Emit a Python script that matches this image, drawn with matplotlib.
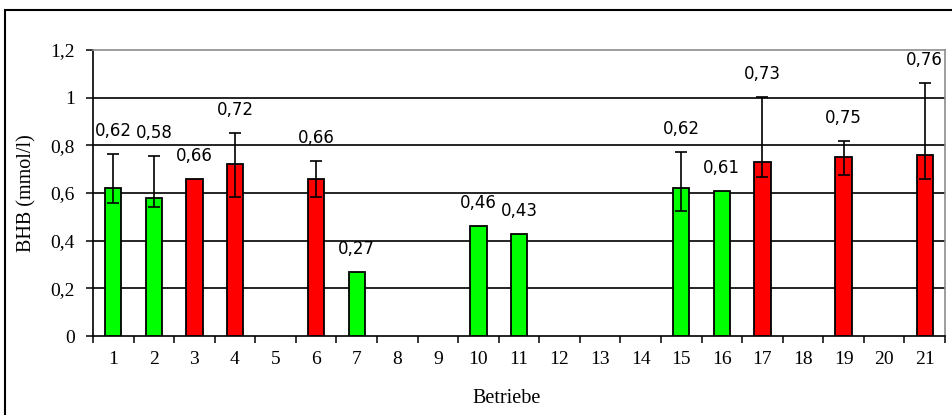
import numpy as np
import matplotlib
matplotlib.use("Agg")
import matplotlib.pyplot as plt
from matplotlib.patches import Rectangle

# ---- data ----
categories = list(range(1, 22))
values = [0.62, 0.58, 0.66, 0.72, np.nan, 0.66, 0.27, np.nan, np.nan, 0.46, 0.43,
          np.nan, np.nan, np.nan, 0.62, 0.61, 0.73, np.nan, 0.75, np.nan, 0.76]
groups = ["g", "g", "r", "r", "", "r", "g", "", "", "g", "g",
          "", "", "", "g", "g", "r", "", "r", "", "r"]
err_plus = [0.145, 0.174, np.nan, 0.131, np.nan, 0.073, np.nan, np.nan, np.nan, np.nan, np.nan,
            np.nan, np.nan, np.nan, 0.152, np.nan, 0.272, np.nan, 0.067, np.nan, 0.30]
err_minus = [0.063, 0.037, np.nan, 0.138, np.nan, 0.078, np.nan, np.nan, np.nan, np.nan, np.nan,
             np.nan, np.nan, np.nan, 0.097, np.nan, 0.063, np.nan, 0.076, np.nan, 0.10]
yticks = [0, 0.2, 0.4, 0.6, 0.8, 1.0, 1.2]
ytick_labels = ["0", "0,2", "0,4", "0,6", "0,8", "1", "1,2"]
ylabel = "BHB (mmol/l)"
xlabel = "Betriebe"

color_map = {"g": "#00FF00", "r": "#FF0000", "": "none"}

W, H = 952, 415
fig = plt.figure(figsize=(W / 100, H / 100), dpi=100)
ax = fig.add_axes([93 / W, 1 - 336 / H, (945 - 93) / W, (336 - 50) / H])

serif = "Liberation Serif"
sans = "DejaVu Sans"

x = np.array(categories, dtype=float)
v = np.array(values, dtype=float)
mask = ~np.isnan(v)
cols = [color_map[g] for g in groups]

ax.bar(x[mask], v[mask], width=0.4, color=[c for c, m in zip(cols, mask) if m],
       edgecolor="black", linewidth=1.3, zorder=3)

ep = np.array(err_plus, dtype=float)
em = np.array(err_minus, dtype=float)
emask = ~np.isnan(ep)
ax.errorbar(x[emask], v[emask], yerr=[em[emask], ep[emask]], fmt="none",
            ecolor="black", elinewidth=1.2, capsize=4.5, capthick=1.2, zorder=4)

# data labels
for xi, vi, pi in zip(x, v, ep):
    if np.isnan(vi):
        continue
    top = vi + (0 if np.isnan(pi) else pi)
    ax.annotate(f"{vi:.2f}".replace(".", ","), (xi, top), xytext=(0, 16.5),
                textcoords="offset points", ha="center", va="center",
                fontsize=12, family=sans, zorder=5)

ax.set_xlim(0.5, 21.5)
ax.set_ylim(0, 1.2)

# gridlines
for yv in yticks[1:-1]:
    ax.axhline(yv, color="black", linewidth=1.2, zorder=1)

ax.set_yticks(yticks)
ax.set_yticklabels(ytick_labels, family=serif, fontsize=14)
ax.tick_params(axis="y", direction="out", length=5, width=1.1, pad=8)

ax.set_xticks(np.arange(0.5, 22, 1.0))
ax.set_xticklabels([])
ax.set_xticks(x, minor=True)
ax.set_xticklabels([str(c) for c in categories], minor=True, family=serif, fontsize=14)
ax.tick_params(axis="x", which="major", direction="out", length=5, width=1.1)
ax.tick_params(axis="x", which="minor", length=0, pad=11)

for s in ["left", "bottom"]:
    ax.spines[s].set_color("black")
    ax.spines[s].set_linewidth(1.2)
for s in ["top", "right"]:
    ax.spines[s].set_color("#8c8c8c")
    ax.spines[s].set_linewidth(1.2)

ax.set_ylabel(ylabel, family=serif, fontsize=14.5)
ax.yaxis.set_label_coords(-(93 - 36) / (945 - 93), 0.5)
ax.set_xlabel(xlabel, family=serif, fontsize=14.5)
ax.xaxis.set_label_coords((507 - 93) / (945 - 93), -(389 - 336) / (336 - 50))

# outer frame
fig.add_artist(Rectangle((5 / W, -0.05), 1.1, 1 - 10 / H + 0.05, transform=fig.transFigure,
                         fill=False, edgecolor="black", linewidth=1.5))

fig.savefig("out.png", dpi=100)
